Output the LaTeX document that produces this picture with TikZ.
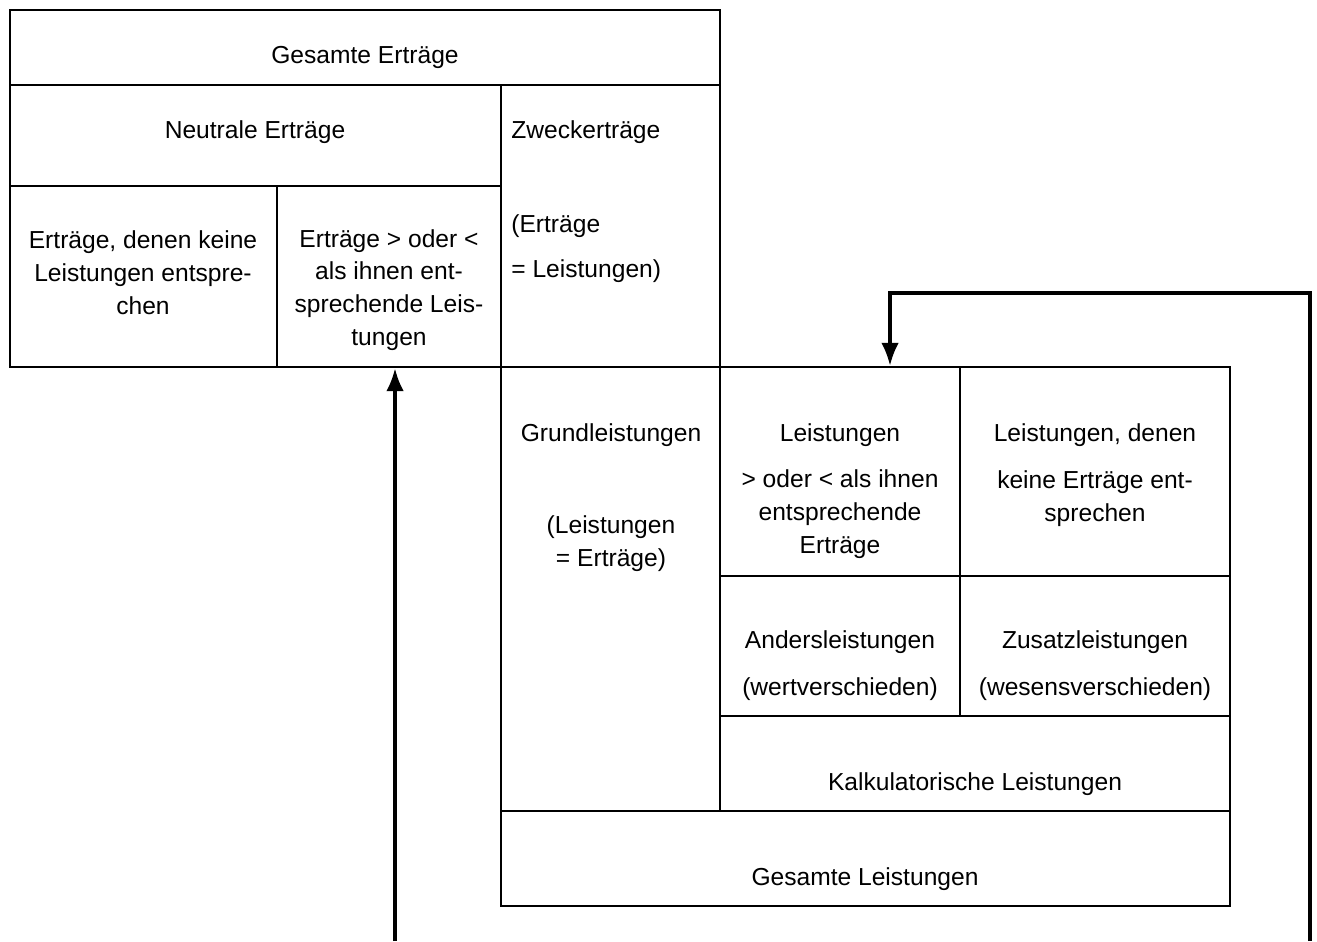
\documentclass[tikz,border=0pt]{standalone}
\usepackage{fontspec}
\setmainfont{Liberation Sans}
\usepackage{tikz}
\usetikzlibrary{arrows.meta,positioning,calc,fit}
\tikzset{
  cell/.style={draw, line width=1.4pt, inner sep=0pt, rectangle},
  txt/.style={align=center, inner sep=0pt, font=\fontsize{14}{18.7}\selectfont},
  flow/.style={line width=1.9pt, -{Latex[length=13pt,width=10pt]}}
}

\begin{document}
\begin{tikzpicture}[x=0.02cm, y=-0.02cm]
    \useasboundingbox (0,0) rectangle (1317,941);
    % Ertraege (upper block)
    \node[cell, fit={(10,10) (720,85)}] (gesErt) {};
    \node[cell, fit={(10,85) (501,186)}] (neuErt) {};
    \node[cell, fit={(10,186) (277,367)}] (ek) {};
    \node[cell, fit={(277,186) (501,367)}] (eg) {};
    \node[cell, fit={(501,85) (720,367)}] (zweck) {};
    \node[txt] (tGesErt) at (365,57) {Gesamte Erträge};
    \node[txt] (tNeuErt) at (255,132) {Neutrale Erträge};
    \node[txt, anchor=west] (tZweck) at (511,132) {Zweckerträge};
    \node[txt, anchor=west, align=left] (tZweckB) at (511,249) {(Erträge\\[7pt]= Leistungen)};
    \node[txt] (tEk) at (143,273) {Erträge, denen keine\\Leistungen entspre-\\chen};
    \node[txt] (tEg) at (389,290) {Erträge > oder <\\als ihnen ent-\\sprechende Leis-\\tungen};
    % Leistungen (lower block)
    \node[cell, fit={(501,367) (720,811)}] (grund) {};
    \node[cell, fit={(720,367) (960,576)}] (lg) {};
    \node[cell, fit={(960,367) (1230,576)}] (lk) {};
    \node[cell, fit={(720,576) (960,716)}] (anders) {};
    \node[cell, fit={(960,576) (1230,716)}] (zusatz) {};
    \node[cell, fit={(720,716) (1230,811)}] (kalk) {};
    \node[cell, fit={(501,811) (1230,906)}] (gesLst) {};
    \node[txt] (tGrund) at (611,435) {Grundleistungen};
    \node[txt] (tGrundB) at (611,544) {(Leistungen\\= Erträge)};
    \node[txt] (tLg) at (840,491) {Leistungen\\[8pt]> oder < als ihnen\\entsprechende\\Erträge};
    \node[txt] (tLk) at (1095,475) {Leistungen, denen\\[8pt]keine Erträge ent-\\sprechen};
    \node[txt] (tAnders) at (840,666) {Andersleistungen\\[8pt](wertverschieden)};
    \node[txt] (tZusatz) at (1095,666) {Zusatzleistungen\\[8pt](wesensverschieden)};
    \node[txt] (tKalk) at (975,784) {Kalkulatorische Leistungen};
    \node[txt] (tGesLst) at (865,879) {Gesamte Leistungen};
    % Arrows
    \coordinate (src1) at (395,941);
    \coordinate (src2) at (1310,941);
    \coordinate (bend) at (890,293);
    \draw[flow] (src1) -- (src1 |- eg.south);
    \draw[flow] (src2) |- (bend) -- (bend |- lg.north);
\end{tikzpicture}
\end{document}
